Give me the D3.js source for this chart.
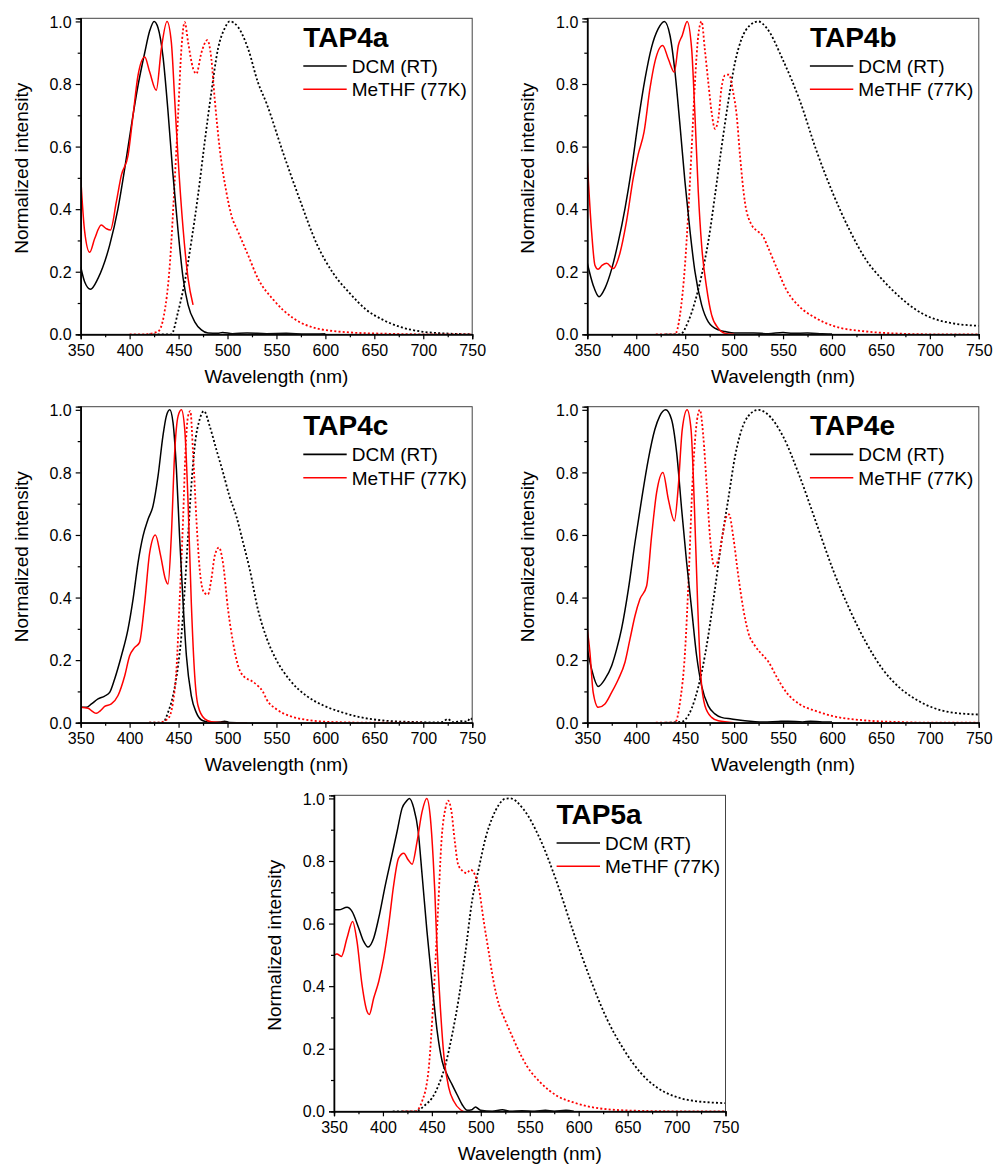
<!DOCTYPE html>
<meta charset="utf-8">
<script src="https://d3js.org/d3.v7.min.js"></script>
<body style="margin:0;background:#fff">
<div id="chart"></div>
</body>
<style>
  text { font-family: "Liberation Sans", Arial, sans-serif; fill: #000; }
</style>
<script>
// ---- data: [wavelength (nm), normalized intensity] ----
// TAP4a
var tap4a_dcm = [[350,0.216],[354,0.168],[360,0.144],[367.7,0.179],[379.6,0.285],[388,0.40],[395,0.53],[401.8,0.668],[408.6,0.796],[415.4,0.90],[420.5,0.97],[425,1.0],[429,0.98],[434,0.89],[439,0.72],[444,0.52],[449.5,0.33],[454.6,0.18],[459.7,0.094],[466.5,0.04],[473.3,0.014],[480,0.004],[490,0.003],[495,0.006],[505,0.002],[520,0.004],[540,0.002],[560,0.003],[580,0.001],[600,0.002]];
var tap4a_methf = [[350,0.503],[354,0.33],[359.2,0.262],[364.3,0.306],[371,0.349],[376,0.338],[380.3,0.333],[386.4,0.423],[391.5,0.508],[398.4,0.572],[403.5,0.70],[408.6,0.828],[415.4,0.886],[420.5,0.838],[427.2,0.78],[432.4,0.913],[438.2,1.0],[442.6,0.934],[446,0.753],[449.5,0.562],[454.6,0.338],[459.7,0.179],[464.8,0.094]];
var tap4a_methfEm = [[400,0],[415,0],[429,0.009],[435,0.06],[441,0.22],[446,0.487],[449.5,0.70],[452.9,0.913],[456.3,0.998],[459.7,0.934],[464.8,0.85],[468.2,0.833],[473.3,0.90],[479.4,0.94],[483.5,0.88],[486.9,0.753],[492,0.594],[498.8,0.455],[504,0.38],[510.8,0.328],[521,0.253],[531,0.179],[547,0.11],[567.4,0.051],[591,0.019],[625,0.006],[659,0.002],[700,0],[750,0]];
var tap4a_dcmEm = [[420,0],[442.6,0],[449.5,0.072],[456.3,0.168],[463,0.296],[469.9,0.445],[476.7,0.615],[483.5,0.774],[490.3,0.913],[497,0.977],[502.2,1.0],[510.8,0.982],[521,0.913],[531,0.806],[540,0.737],[557,0.578],[574,0.429],[591,0.29],[608,0.195],[625,0.131],[642,0.078],[659,0.046],[676,0.024],[700,0.008],[721,0.003],[750,0]];

// TAP4b
var tap4b_dcm = [[350,0.227],[356,0.157],[362,0.12],[368,0.147],[375,0.21],[381.7,0.296],[388.5,0.402],[395.3,0.53],[402,0.68],[409,0.817],[415.7,0.918],[422.5,0.977],[428.7,1.0],[434.5,0.955],[439.6,0.838],[444.7,0.668],[449.8,0.487],[455,0.328],[460,0.2],[466.8,0.094],[473.6,0.04],[484,0.014],[490.7,0.009],[500,0.004],[520,0.004],[535,0.002],[550,0.006],[560,0.003],[575,0.004],[590,0.002],[600,0.001]];
var tap4b_methf = [[350,0.551],[354.4,0.328],[357.8,0.221],[361,0.208],[365,0.22],[369.8,0.227],[376.6,0.21],[383.4,0.26],[390,0.36],[397,0.50],[402,0.575],[408,0.647],[414,0.785],[419,0.87],[427,0.923],[432.8,0.88],[438.9,0.838],[443,0.923],[447,0.955],[452,1.0],[456.6,0.913],[460,0.70],[463.4,0.455],[466.8,0.285],[472,0.147],[477,0.062],[483.9,0.019],[490.7,0.003],[500,0]];
var tap4b_methfEm = [[420,0],[439.6,0],[444.7,0.062],[449.8,0.221],[453,0.38],[456.6,0.594],[460,0.806],[463.4,0.955],[466.8,1.0],[470,0.913],[473.6,0.806],[477,0.71],[480.5,0.657],[483.9,0.69],[487,0.785],[490.7,0.828],[494.8,0.83],[499,0.774],[502.6,0.70],[506,0.572],[511,0.423],[518,0.349],[524.7,0.328],[529.8,0.312],[533,0.29],[543,0.216],[553.6,0.141],[567,0.088],[584,0.051],[601,0.027],[635,0.009],[669,0.002],[700,0],[750,0]];
var tap4b_dcmEm = [[430,0],[445,0],[453,0.04],[460,0.104],[466.8,0.189],[473.6,0.296],[480.5,0.445],[487,0.594],[494,0.743],[501,0.87],[507.7,0.945],[516,0.987],[524.7,1.0],[533,0.98],[550,0.876],[567,0.748],[584,0.588],[601,0.45],[618,0.333],[635,0.237],[652,0.173],[669,0.12],[686,0.078],[703,0.051],[720,0.037],[750,0.027]];

// TAP4c
var tap4c_dcm = [[350,0.049],[355.8,0.049],[361,0.06],[367.7,0.076],[374.5,0.085],[379.6,0.097],[384.7,0.14],[391.6,0.214],[398.4,0.30],[403.5,0.395],[408.6,0.512],[413.7,0.597],[418.8,0.65],[423.9,0.693],[429,0.788],[434,0.916],[437.5,0.98],[441,1.0],[444.3,0.96],[447.8,0.81],[451,0.597],[454.6,0.384],[458,0.214],[463,0.086],[468,0.033],[475,0.006],[483.5,0.001],[492,0.002],[497,0.005],[502,0.001],[520,0]];
var tap4c_methf = [[350,0.049],[357.5,0.046],[362,0.036],[366,0.03],[370,0.038],[374.5,0.052],[381.3,0.06],[388,0.086],[395,0.15],[400,0.214],[405,0.24],[410,0.256],[415.4,0.384],[420.5,0.544],[426.3,0.6],[431.7,0.533],[436.5,0.459],[439.2,0.443],[442.6,0.597],[446,0.863],[449.5,0.98],[452.9,1.0],[456.3,0.937],[459.7,0.703],[463,0.384],[466.5,0.15],[469.9,0.054],[476.7,0.012],[483.5,0.003],[500,0],[520,0]];
var tap4c_methfEm = [[420,0],[429,0],[439,0.012],[444.3,0.065],[447.8,0.17],[451,0.384],[454.6,0.65],[457,0.863],[459.7,0.98],[462,0.996],[464.8,0.863],[468.2,0.65],[471.6,0.49],[476,0.416],[480,0.41],[483.5,0.459],[486.9,0.533],[491.3,0.56],[495.4,0.51],[500.5,0.363],[505.7,0.256],[510.8,0.182],[517.6,0.145],[524.4,0.134],[531,0.118],[536,0.1],[540,0.074],[550,0.043],[564,0.021],[581,0.009],[608,0.002],[650,0],[700,0]];
var tap4c_dcmEm = [[420,0],[434,0],[439.2,0.033],[444.3,0.086],[449.5,0.182],[452.9,0.278],[456.3,0.427],[459.7,0.597],[463,0.756],[466.5,0.884],[471.6,0.97],[476,0.996],[481.8,0.948],[488.6,0.873],[495.4,0.80],[502,0.724],[509,0.66],[515.9,0.576],[522.7,0.49],[531,0.363],[540,0.27],[550,0.2],[564,0.135],[581,0.085],[598,0.055],[615,0.035],[635,0.018],[659,0.007],[693,0.002],[715,0.001],[720,0.003],[725,0.012],[730,0.002],[740,0.005],[745,0.003],[748,0.015],[750,0.01]];

// TAP4e
var tap4e_dcm = [[350,0.235],[354.4,0.171],[361.2,0.116],[368,0.139],[374.9,0.182],[380,0.235],[385,0.30],[392,0.427],[398.7,0.576],[405.5,0.714],[412.3,0.841],[419,0.937],[424,0.98],[430,1.0],[436,0.97],[441.3,0.863],[446.4,0.682],[451.5,0.512],[456.6,0.363],[461.7,0.214],[466.8,0.118],[473.6,0.054],[480.4,0.028],[487,0.017],[497.5,0.012],[511,0.006],[530,0.002],[545,0.004],[555,0.005],[570,0.002],[578,0.005],[590,0.002],[600,0.002]];
var tap4e_methf = [[350,0.299],[352.7,0.224],[356,0.097],[361.2,0.049],[368,0.06],[374.9,0.097],[381.7,0.139],[388.5,0.193],[393.6,0.267],[398.7,0.341],[403.8,0.395],[410.6,0.437],[415.7,0.597],[420.8,0.735],[427.3,0.80],[432.8,0.714],[439,0.645],[443,0.756],[447,0.937],[452,1.0],[456,0.937],[459.3,0.703],[462.7,0.384],[466,0.15],[470.2,0.054],[477,0.017],[483.9,0.006],[500,0]];
var tap4e_methfEm = [[420,0],[439.6,0],[444.7,0.065],[449.8,0.224],[453.9,0.49],[457.3,0.756],[461,0.937],[465,1.0],[468.5,0.916],[472,0.756],[475.3,0.597],[479.8,0.50],[483.9,0.522],[488,0.597],[492.4,0.66],[494.8,0.666],[499,0.597],[504.3,0.469],[509.4,0.363],[514.5,0.288],[521.3,0.246],[529.8,0.214],[535,0.195],[543,0.149],[553.6,0.096],[567,0.059],[584,0.037],[601,0.021],[635,0.007],[669,0.002],[700,0],[750,0]];
var tap4e_dcmEm = [[430,0],[446.4,0.003],[453,0.022],[460,0.076],[466.8,0.16],[473.6,0.278],[480.4,0.427],[487,0.576],[494,0.714],[501,0.852],[507.7,0.937],[514.5,0.98],[524.7,1.0],[533,0.989],[550,0.915],[567,0.787],[584,0.638],[601,0.489],[618,0.362],[635,0.255],[652,0.17],[669,0.112],[686,0.074],[703,0.048],[720,0.034],[750,0.026]];

// TAP5a
var tap5a_dcm = [[350,0.644],[354.8,0.644],[363.3,0.652],[368.4,0.639],[375.2,0.586],[380.3,0.543],[384.8,0.525],[390.6,0.554],[395.7,0.618],[402.5,0.724],[409.3,0.82],[414.5,0.895],[419.6,0.969],[423.7,0.99],[427,1.0],[431.5,0.969],[436,0.895],[440,0.756],[445,0.575],[450.3,0.405],[455.4,0.256],[460.5,0.16],[465.6,0.117],[470.7,0.085],[475.8,0.053],[481,0.021],[486,0.003],[491,0.005],[494.6,0.014],[499.7,0.003],[511.6,0],[522,0.005],[530,0],[542,0.002],[555,0],[566,0.003],[575,0],[587,0.003],[595,0]];
var tap5a_methf = [[350,0.498],[353,0.503],[357.5,0.495],[363.3,0.554],[369,0.607],[373.5,0.543],[378.6,0.405],[383.8,0.319],[386,0.309],[390.6,0.362],[395.7,0.415],[400.8,0.49],[405.9,0.596],[411,0.724],[416,0.809],[421.3,0.825],[425.7,0.804],[429.8,0.79],[434.9,0.863],[440,0.958],[444.8,1.0],[448.5,0.937],[451.3,0.809],[453,0.703],[454.3,0.596],[457.7,0.383],[462.5,0.17],[467.3,0.075],[472.4,0.032],[479.2,0.005],[482,0]];
var tap5a_methfEm = [[420,0],[433,0],[440,0.032],[446.8,0.138],[452,0.383],[456.4,0.65],[459.8,0.863],[463.9,0.969],[466.6,0.993],[470,0.958],[473.4,0.863],[476.9,0.788],[482,0.767],[485.4,0.761],[489.5,0.772],[494,0.756],[498,0.713],[503,0.607],[508,0.511],[513,0.415],[518.5,0.341],[525,0.29],[532,0.24],[537,0.205],[547,0.145],[561,0.092],[578,0.049],[595,0.028],[622,0.009],[656,0.002],[700,0],[750,0]];
var tap5a_dcmEm = [[410,0],[433,0],[443.4,0.021],[450.3,0.043],[457,0.085],[463.9,0.149],[470.7,0.245],[477.5,0.362],[484.4,0.511],[491,0.671],[498,0.777],[504.8,0.873],[511.6,0.937],[518.5,0.98],[525,0.999],[530,1.0],[543.7,0.965],[560.7,0.869],[577.8,0.731],[594.8,0.571],[612,0.422],[629,0.294],[646,0.198],[663,0.124],[680,0.076],[697,0.049],[714,0.035],[750,0.026]];

var xMajor = [350,400,450,500,550,600,650,700,750];
var xMinor = [375,425,475,525,575,625,675,725];
var yMajor = [0,0.2,0.4,0.6,0.8,1.0];
var yMinor = [0.1,0.3,0.5,0.7,0.9];
var legendNames = ["DCM (RT)", "MeTHF (77K)"];

// ---- layout ----
var W = 391.5, H = 316;
var panels = [
  {name: "TAP4a", left: 80.7,  top: 18.3,  lines: [tap4a_dcm, tap4a_methf, tap4a_dcmEm, tap4a_methfEm]},
  {name: "TAP4b", left: 587.3, top: 18.3,  lines: [tap4b_dcm, tap4b_methf, tap4b_dcmEm, tap4b_methfEm]},
  {name: "TAP4c", left: 80.7,  top: 406.7, lines: [tap4c_dcm, tap4c_methf, tap4c_dcmEm, tap4c_methfEm]},
  {name: "TAP4e", left: 587.3, top: 406.7, lines: [tap4e_dcm, tap4e_methf, tap4e_dcmEm, tap4e_methfEm]},
  {name: "TAP5a", left: 334,   top: 795.3, lines: [tap5a_dcm, tap5a_methf, tap5a_dcmEm, tap5a_methfEm]}
];
var styles = [
  {color: "#000", dash: null},
  {color: "#ff0000", dash: null},
  {color: "#000", dash: "2,2.2"},
  {color: "#ff0000", dash: "2,2.2"}
];

var svg = d3.select("#chart").append("svg")
  .attr("width", 995).attr("height", 1166);

panels.forEach(function(p, i) {
  var g = svg.append("g").attr("transform", "translate(" + p.left + "," + p.top + ")");

  var x = d3.scaleLinear().domain([350, 750]).range([0, W]);
  var y = d3.scaleLinear().domain([0, 1.01]).range([H, 0]);

  g.append("clipPath").attr("id", "clip" + i)
    .append("rect").attr("width", W).attr("height", H);

  var line = d3.line()
    .x(function(d) { return x(d[0]); })
    .y(function(d) { return y(d[1]); })
    .curve(d3.curveMonotoneX);

  var plot = g.append("g").attr("clip-path", "url(#clip" + i + ")");
  // draw emission (dotted) first, then absorption
  [2, 3, 0, 1].forEach(function(k) {
    plot.append("path")
      .datum(p.lines[k])
      .attr("fill", "none")
      .attr("stroke", styles[k].color)
      .attr("stroke-width", styles[k].dash ? 1.8 : 1.5)
      .attr("stroke-dasharray", styles[k].dash)
      .attr("d", line);
  });

  // frame (top / right)
  g.append("rect").attr("width", W).attr("height", H)
    .attr("fill", "none").attr("stroke", "#444").attr("stroke-width", 1);

  // x axis
  var xa = g.append("g").attr("transform", "translate(0," + H + ")");
  xa.call(d3.axisBottom(x).tickValues(xMinor).tickSize(3).tickFormat(""));
  var xb = g.append("g").attr("transform", "translate(0," + H + ")");
  xb.call(d3.axisBottom(x).tickValues(xMajor).tickSize(5).tickPadding(5).tickFormat(d3.format("d")));
  // y axis
  var ya = g.append("g");
  ya.call(d3.axisLeft(y).tickValues(yMinor).tickSize(3).tickFormat(""));
  var yb = g.append("g");
  yb.call(d3.axisLeft(y).tickValues(yMajor).tickSize(5).tickPadding(4).tickFormat(d3.format(".1f")));

  g.selectAll(".domain").attr("stroke", "#000").attr("stroke-width", 1.3);
  g.selectAll(".tick line").attr("stroke", "#000").attr("stroke-width", 1.2);
  g.selectAll(".tick text").style("font-size", "16px").style("font-family", "Liberation Sans, Arial, sans-serif").attr("fill", "#000");
  xb.selectAll(".tick text").attr("dy", "0.73em");
  yb.selectAll(".tick text").attr("dy", "0.35em");

  // axis titles
  g.append("text")
    .attr("x", W / 2).attr("y", H + 48.5)
    .attr("text-anchor", "middle")
    .style("font-size", "19px")
    .text("Wavelength (nm)");
  g.append("text")
    .attr("transform", "translate(-53," + 150 + ") rotate(-90)")
    .attr("text-anchor", "middle")
    .style("font-size", "19px")
    .text("Normalized intensity");

  // compound label
  g.append("text")
    .attr("x", 222.6).attr("y", 28.4)
    .style("font-size", "28px").style("font-weight", "bold")
    .text(p.name);

  // legend
  legendNames.forEach(function(n, j) {
    var ly = 47.7 + j * 23.3;
    g.append("line")
      .attr("x1", 222.6).attr("x2", 266)
      .attr("y1", ly).attr("y2", ly)
      .attr("stroke", styles[j].color).attr("stroke-width", 1.6);
    g.append("text")
      .attr("x", 271).attr("y", ly + 7)
      .style("font-size", "19px")
      .text(n);
  });
});
</script>
